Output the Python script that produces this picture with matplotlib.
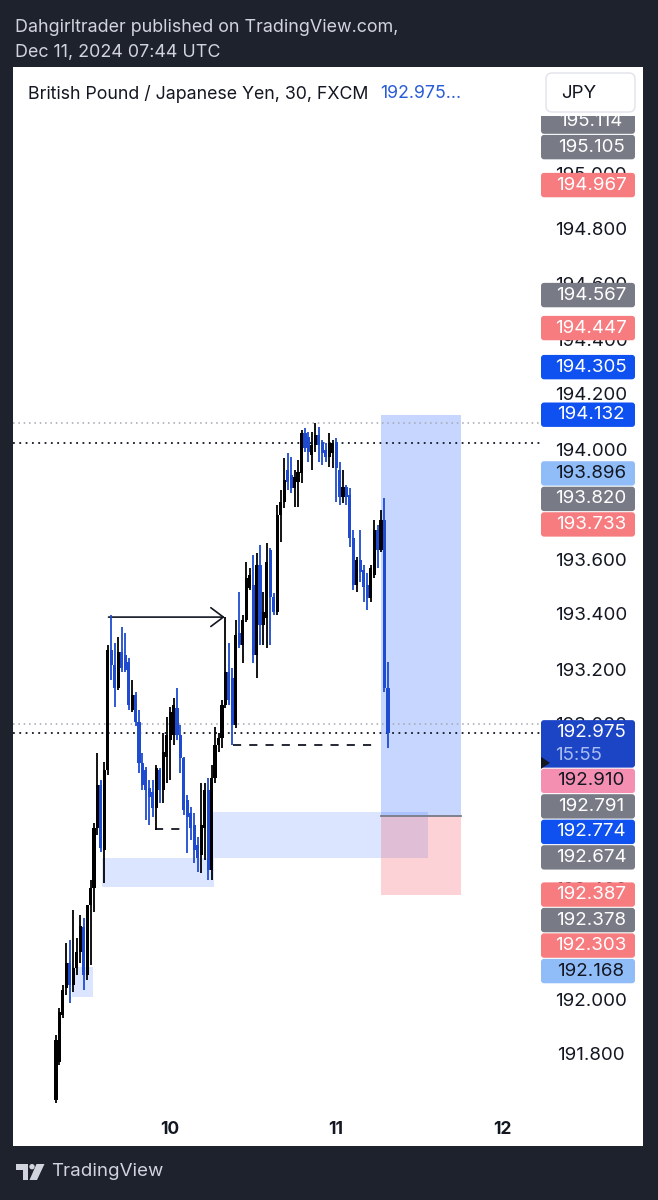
import matplotlib.pyplot as plt
from matplotlib.patches import Rectangle, FancyBboxPatch, Polygon, Circle

plt.rcParams['font.family'] = ['Inter', 'DejaVu Sans']

# GBPJPY 30 min candles, bar 0 = Dec 9 07:30 UTC
opens = [191.640, 191.778, 191.949, 192.047, 192.138, 192.058, 192.120, 192.178, 192.270, 192.095,
         192.349, 192.411, 192.629, 192.786, 192.549, 192.840, 193.276, 193.222, 193.138, 193.269,
         193.258, 193.233, 193.058, 193.113, 193.015, 192.865, 192.840, 192.775, 192.760, 192.702,
         192.840, 192.767, 192.888, 192.949, 192.967, 193.066, 192.967, 192.884, 192.731, 192.684,
         192.640, 192.567, 192.531, 192.629, 192.767, 192.476, 192.811, 192.931, 192.956, 193.077,
         193.197, 193.175, 193.004, 193.338, 193.295, 193.385, 193.502, 193.513, 193.258, 193.586,
         193.367, 193.393, 193.640, 193.470, 193.415, 193.767, 193.815, 193.931, 193.913, 193.866,
         193.888, 193.920, 194.065, 194.051, 193.986, 194.022, 194.058, 194.033, 194.004, 193.979,
         193.993, 194.033, 193.931, 193.833, 193.870, 193.840, 193.684, 193.513, 193.604, 193.567,
         193.513, 193.466, 193.549, 193.713, 193.640, 193.749, 193.138]
highs = [191.877, 191.975, 192.058, 192.211, 192.222, 192.331, 192.229, 192.313, 192.302, 192.324,
         192.440, 192.647, 192.902, 192.804, 192.869, 193.295, 193.404, 193.302, 193.324, 193.360,
         193.338, 193.247, 193.167, 193.124, 193.058, 192.902, 192.851, 192.804, 192.804, 192.858,
         192.847, 192.974, 193.033, 193.070, 193.102, 193.138, 193.004, 192.888, 192.749, 192.706,
         192.684, 192.597, 192.793, 192.793, 192.811, 192.858, 192.997, 192.974, 193.095, 193.397,
         193.302, 193.211, 193.385, 193.488, 193.404, 193.597, 193.575, 193.622, 193.629, 193.658,
         193.488, 193.665, 193.647, 193.484, 193.804, 193.858, 193.975, 193.993, 193.979, 193.931,
         193.967, 194.076, 194.084, 194.069, 194.069, 194.102, 194.088, 194.040, 194.029, 194.065,
         194.040, 194.047, 193.960, 193.931, 193.877, 193.866, 193.713, 193.615, 193.713, 193.586,
         193.556, 193.586, 193.749, 193.731, 193.785, 193.829, 193.233]
lows = [191.629, 191.767, 191.938, 192.022, 191.993, 192.033, 192.095, 192.138, 192.040, 192.076,
        192.131, 192.324, 192.604, 192.542, 192.429, 192.822, 193.167, 193.070, 193.131, 193.197,
        193.197, 193.058, 193.051, 193.000, 192.829, 192.767, 192.658, 192.640, 192.670, 192.622,
        192.720, 192.720, 192.793, 192.804, 192.931, 192.949, 192.829, 192.677, 192.538, 192.585,
        192.502, 192.469, 192.465, 192.513, 192.440, 192.440, 192.793, 192.906, 192.920, 193.066,
        193.077, 192.931, 192.993, 193.284, 193.229, 193.378, 193.495, 193.229, 193.175, 193.295,
        193.295, 193.284, 193.295, 193.404, 193.404, 193.669, 193.793, 193.858, 193.847, 193.797,
        193.797, 193.884, 193.997, 193.960, 193.931, 193.997, 193.960, 193.949, 193.960, 193.942,
        193.938, 193.815, 193.804, 193.811, 193.804, 193.651, 193.495, 193.488, 193.524, 193.451,
        193.422, 193.451, 193.538, 193.575, 193.633, 193.124, 192.920]
closes = [191.858, 191.960, 192.040, 192.138, 192.058, 192.120, 192.178, 192.273, 192.095, 192.349,
          192.411, 192.629, 192.786, 192.556, 192.840, 193.276, 193.222, 193.138, 193.269, 193.211,
          193.204, 193.077, 193.113, 193.015, 192.865, 192.786, 192.767, 192.742, 192.702, 192.847,
          192.767, 192.906, 192.967, 193.051, 193.077, 192.967, 192.884, 192.695, 192.670, 192.629,
          192.549, 192.520, 192.640, 192.767, 192.476, 192.811, 192.931, 192.956, 193.077, 193.197,
          193.095, 193.004, 193.331, 193.295, 193.385, 193.538, 193.549, 193.258, 193.586, 193.367,
          193.415, 193.597, 193.470, 193.415, 193.767, 193.815, 193.895, 193.888, 193.866, 193.906,
          193.924, 194.065, 194.011, 193.997, 194.022, 194.058, 194.022, 193.993, 193.979, 194.029,
          194.029, 193.938, 193.833, 193.870, 193.833, 193.684, 193.513, 193.604, 193.560, 193.506,
          193.466, 193.575, 193.713, 193.640, 193.749, 193.138, 192.975]

day_ticks = [33, 81, 129]
day_labels = ['10', '11', '12']
price_ticks = [191.8, 192.0, 192.2, 192.4, 192.6, 192.8, 193.0, 193.2, 193.4,
               193.6, 193.8, 194.0, 194.2, 194.4, 194.6, 194.8, 195.0, 195.2]

# price scale labels of the drawings
scale_values = [195.114, 195.105, 194.967, 194.567, 194.447, 194.305, 194.132, 193.896, 193.820,
                193.733, 192.910, 192.791, 192.774, 192.674, 192.387, 192.378, 192.303, 192.168]
scale_kinds = ['grey', 'grey', 'red', 'grey', 'red', 'blue', 'blue', 'light', 'grey',
               'red', 'pink', 'grey', 'blue', 'grey', 'red', 'grey', 'red', 'light']
last_price = 192.975
countdown = '15:55'

# drawings (bar index, price)
dotted_dark = [194.030, 192.975]
dotted_light = [194.102, 193.007]
zones = [(4.5, 10.8, 192.015, 192.124), (13.2, 45.7, 192.415, 192.520), (45.3, 107.6, 192.520, 192.687)]
pos_x = (94.0, 117.1)
entry, target, stop = 192.674, 194.132, 192.387
arrow_y, arrow_x = 193.396, (15.2, 48.8)
dashed = [(28.6, 37.8, 192.625), (51.1, 91.7, 192.931)]

kind_style = {'grey': ('#787b86', 'white'), 'red': ('#f77c80', 'white'),
              'blue': ('#0e50f0', 'white'), 'light': ('#90bdf8', '#131722'),
              'pink': ('#f48fb1', '#131722')}
up_col, down_col = '#000000', '#1f4ccf'

W, H = 658, 1200
fig = plt.figure(figsize=(W / 100, H / 100), dpi=100)
fig.patch.set_facecolor('#1e222d')

bg = fig.add_axes([0, 0, 1, 1], zorder=0)
bg.set_xlim(0, W); bg.set_ylim(H, 0); bg.axis('off')
bg.add_patch(Rectangle((13, 67), 630, 1079, facecolor='white', edgecolor='none'))

# main chart area: x 13..540 px, y 116..1110 px
ax = fig.add_axes([13 / W, 1 - 1110 / H, 527 / W, 994 / H], zorder=1)
ax.set_facecolor('white')
ax.set_xlim(-12.43, 139.97)
ax.set_ylim(194 - (1110 - 451) / 275, 194 + (451 - 116) / 275)
for s in ax.spines.values():
    s.set_visible(False)
ax.set_yticks([])
ax.set_xticks(day_ticks)
ax.set_xticklabels(day_labels, fontweight='bold', fontsize=12.5, color='#131722')
ax.tick_params(axis='x', length=0, pad=8)

for x0, x1, y0, y1 in zones:
    ax.add_patch(Rectangle((x0, y0), x1 - x0, y1 - y0, facecolor='#2962ff', alpha=0.16,
                           edgecolor='none', zorder=1))
ax.add_patch(Rectangle((pos_x[0], entry), pos_x[1] - pos_x[0], target - entry,
                       facecolor='#2962ff', alpha=0.26, edgecolor='none', zorder=1))
ax.add_patch(Rectangle((pos_x[0], stop), pos_x[1] - pos_x[0], entry - stop,
                       facecolor='#f23645', alpha=0.22, edgecolor='none', zorder=1))
ax.plot(pos_x, [entry, entry], color='#787b86', lw=1.3, zorder=2)

for y in dotted_light:
    ax.axhline(y, color='#a3a6af', lw=1.1, ls=(0, (1, 2.5)), zorder=2)
for y in dotted_dark:
    ax.axhline(y, color='#131722', lw=1.3, ls=(0, (1, 2.5)), zorder=2)
for x0, x1, y in dashed:
    ax.plot([x0, x1], [y, y], color='#131722', lw=1.3, ls=(0, (4.5, 4.5)), zorder=2)

ax.annotate('', xy=(arrow_x[1], arrow_y), xytext=(arrow_x[0], arrow_y),
            arrowprops=dict(arrowstyle='->,head_length=0.6,head_width=0.45', lw=1.2,
                            color='#131722', shrinkA=0, shrinkB=0, mutation_scale=15), zorder=3)

for i in range(len(opens)):
    o, h, l, c = opens[i], highs[i], lows[i], closes[i]
    col = up_col if c >= o else down_col
    ax.vlines(i, l, h, color=col, lw=1.3, zorder=4)
    body = max(abs(c - o), 0.004)
    ax.bar(i, body, bottom=min(o, c), width=0.9, color=col, edgecolor='none', zorder=4)

# overlay in pixel coordinates
ov = fig.add_axes([0, 0, 1, 1], zorder=2)
ov.set_xlim(0, W); ov.set_ylim(H, 0); ov.axis('off')
ov.patch.set_alpha(0)


def to_py(p):
    return H - ax.transData.transform((0, p))[1]


for p in price_ticks:
    ov.text(591, to_py(p), f'{p:.3f}', ha='center', va='center', fontsize=13.5,
            color='#131722', zorder=1)

lh = 25.5
yl = to_py(last_price)
last_top, last_bot = yl - lh / 2, yl - lh / 2 + 48
ov.add_patch(FancyBboxPatch((541, last_top), 94, 47.5, boxstyle='round,pad=0,rounding_size=3',
                            facecolor='#1c45c6', edgecolor='none', zorder=3))
ov.text(591, yl, f'{last_price:.3f}', ha='center', va='center', fontsize=13.5, color='white', zorder=4)
ov.text(555, yl + 23, countdown, ha='left', va='center', fontsize=13.5, color='#a9bdf0', zorder=4)
ov.add_patch(Polygon([(541, yl + 24), (550, yl + 30), (541, yl + 36)], closed=True,
                     facecolor='#131722', edgecolor='none', zorder=5))

above = sorted([(v, k) for v, k in zip(scale_values, scale_kinds) if v > last_price])
below = sorted([(v, k) for v, k in zip(scale_values, scale_kinds) if v < last_price], reverse=True)
placed = []
limit = last_top
for v, k in above:
    cy = min(to_py(v), limit - lh / 2)
    limit = cy - lh / 2
    placed.append((v, k, cy))
limit = last_bot
for v, k in below:
    cy = max(to_py(v), limit + lh / 2)
    limit = cy + lh / 2
    placed.append((v, k, cy))
for v, k, cy in placed:
    fc, tc = kind_style[k]
    ov.add_patch(FancyBboxPatch((541, cy - 12.2), 94, 24.4, boxstyle='round,pad=0,rounding_size=3',
                                facecolor=fc, edgecolor='none', zorder=3))
    ov.text(591, cy, f'{v:.3f}', ha='center', va='center', fontsize=13.5, color=tc, zorder=4)

# header strip of the white panel
ov.add_patch(Rectangle((13, 67), 630, 49, facecolor='white', edgecolor='none', zorder=6))
ov.text(28, 94, 'British Pound / Japanese Yen, 30, FXCM', ha='left', va='center',
        fontsize=12.8, color='#131722', zorder=7)
ov.text(380, 94, '192.975...', ha='left', va='center', fontsize=12.8, color='#2a5bd7', zorder=7)
ov.add_patch(FancyBboxPatch((546, 73), 89, 39, boxstyle='round,pad=0,rounding_size=6',
                            facecolor='white', edgecolor='#e0e3eb', lw=1, zorder=7))
ov.text(579, 93, 'JPY', ha='center', va='center', fontsize=13.5, color='#131722', zorder=8)

ov.text(15, 28, 'Dahgirltrader published on TradingView.com,', ha='left', va='center',
        fontsize=12.9, color='#d1d4dc')
ov.text(15, 52, 'Dec 11, 2024 07:44 UTC', ha='left', va='center', fontsize=12.9, color='#d1d4dc')

# TradingView logo
logo = '#d1d4dc'
ov.add_patch(Polygon([(15.5, 1164), (28, 1164), (28, 1180), (22.5, 1180), (22.5, 1169.5), (15.5, 1169.5)],
                     closed=True, facecolor=logo, edgecolor='none'))
ov.add_patch(Circle((32, 1166.7), 2.7, facecolor=logo, edgecolor='none'))
ov.add_patch(Polygon([(36.5, 1164), (44.5, 1164), (37, 1180), (29.5, 1180)], closed=True,
                     facecolor=logo, edgecolor='none'))
ov.text(51, 1172, 'TradingView', ha='left', va='center', fontsize=13.5, color=logo)

fig.savefig('out.png', dpi=100, facecolor=fig.get_facecolor())
